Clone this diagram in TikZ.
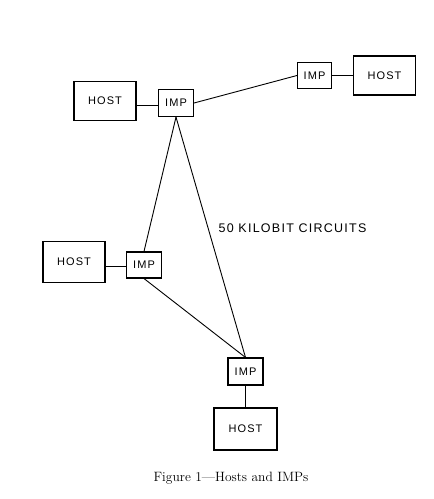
\documentclass[tikz,border=0pt]{standalone}
\usepackage{fontspec}
\newfontfamily\boxfont[LetterSpace=10]{Liberation Sans}
\begin{document}
\begin{tikzpicture}[x=1pt,y=-1pt,
  box/.style={draw,line width=1.1pt,inner sep=0pt,font=\boxfont\fontsize{11}{13}\selectfont},
  hostbox/.style={box,minimum width=62pt,minimum height=39pt},
  impbox/.style={box,minimum width=35pt,minimum height=27pt},
  link/.style={line width=0.9pt}]
\useasboundingbox (0,0) rectangle (434,499);
\node[hostbox] (hostA) at (105,101) {HOST};
\node[impbox] (impA) at (176,103) {IMP};
\node[impbox,minimum width=34pt,minimum height=26pt] (impB) at (314.5,75.5) {IMP};
\node[hostbox] (hostB) at (384.5,75.5) {HOST};
\node[hostbox,minimum height=41pt] (hostC) at (74,262) {HOST};
\node[impbox,minimum height=26pt] (impC) at (144,265) {IMP};
\node[impbox] (impD) at (245.5,371.5) {IMP};
\node[hostbox,minimum width=63pt,minimum height=42pt] (hostD) at (245.5,429) {HOST};
\node[font=\boxfont\fontsize{12.5}{14}\selectfont] (lbl) at (292.5,228) {50 KILOBIT CIRCUITS};
\node[font=\fontsize{13.5}{16}\selectfont] (cap) at (231,478) {Figure 1---Hosts and IMPs};
\coordinate (hA) at ([yshift=-2pt]impA.west -| hostA.east);
\coordinate (hC) at ([yshift=-1.5pt]impC.west -| hostC.east);
\draw[link] (hA) -- (hA -| impA.west);
\draw[link] (impA.east) -- (impB.west);
\draw[link] (impB.east) -- (hostB.west);
\draw[link] (hC) -- (hC -| impC.west);
\draw[link] (impD.south) -- (hostD.north);
\draw[link] (impA.south) -- (impC.north);
\draw[link] (impA.south) -- (impD.north);
\draw[link] (impC.south) -- (impD.north);
\end{tikzpicture}
\end{document}
